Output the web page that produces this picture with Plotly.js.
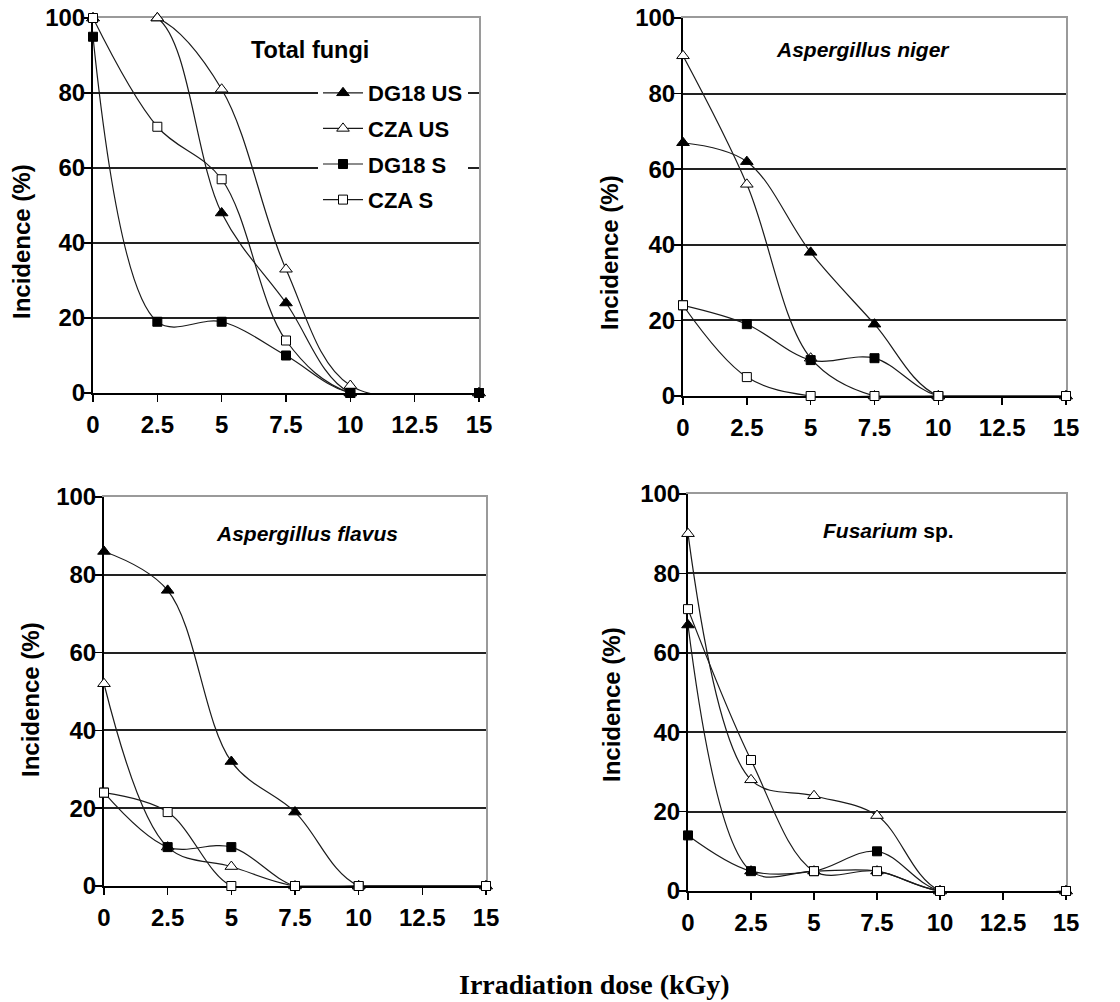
<!DOCTYPE html>
<html>
<head>
<meta charset="utf-8">
<script src="https://cdn.plot.ly/plotly-3.0.1.min.js"></script>
<style>
  html, body { margin: 0; padding: 0; background: #ffffff; }
  #chart { width: 1120px; height: 1002px; }
</style>
</head>
<body>
<div id="chart"></div>
<script>
// ---------- data ----------
const doses = [0, 2.5, 5, 7.5, 10, 15];
const xTickVals = [0, 2.5, 5, 7.5, 10, 12.5, 15];
const xTickText = ['0', '2.5', '5', '7.5', '10', '12.5', '15'];
const yTickVals = [0, 20, 40, 60, 80, 100];
const yTickText = ['0', '20', '40', '60', '80', '100'];
const seriesNames = ['DG18 US', 'CZA US', 'DG18 S', 'CZA S'];
const panelTitles = ['Total fungi', '<i>Aspergillus niger</i>', '<i>Aspergillus flavus</i>', '<i>Fusarium</i> sp.'];
const yAxisTitle = 'Incidence (%)';
const xAxisTitle = 'Irradiation dose (kGy)';

// Total fungi
const totalDG18US = [100, 100, 48, 24, 0, 0];
const totalCZAUS  = [100, 100, 81, 33, 2, 0];
const totalDG18S  = [95, 19, 19, 10, 0, 0];
const totalCZAS   = [100, 71, 57, 14, 0, 0];
// Aspergillus niger
const nigerDG18US = [67, 62, 38, 19, 0, 0];
const nigerCZAUS  = [90, 56, 10, 0, 0, 0];
const nigerDG18S  = [24, 19, 9.5, 10, 0, 0];
const nigerCZAS   = [24, 5, 0, 0, 0, 0];
// Aspergillus flavus
const flavusDG18US = [86, 76, 32, 19, 0, 0];
const flavusCZAUS  = [52, 10, 5, 0, 0, 0];
const flavusDG18S  = [24, 10, 10, 0, 0, 0];
const flavusCZAS   = [24, 19, 0, 0, 0, 0];
// Fusarium sp.
const fusDG18US = [67, 5, 5, 5, 0, 0];
const fusCZAUS  = [90, 28, 24, 19, 0, 0];
const fusDG18S  = [14, 5, 5, 10, 0, 0];
const fusCZAS   = [71, 33, 5, 5, 0, 0];

const panelData = [
  [totalDG18US, totalCZAUS, totalDG18S, totalCZAS],
  [nigerDG18US, nigerCZAUS, nigerDG18S, nigerCZAS],
  [flavusDG18US, flavusCZAUS, flavusDG18S, flavusCZAS],
  [fusDG18US, fusCZAUS, fusDG18S, fusCZAS]
];

// ---------- styling ----------
const W = 1120, H = 1002;
const SANS = 'Liberation Sans, Arial, Helvetica, sans-serif';
const SERIF = 'Liberation Serif, Times New Roman, serif';
const markerStyles = [
  {symbol: 'triangle-up', size: 11, color: '#000', line: {color: '#000', width: 1}},
  {symbol: 'triangle-up', size: 11, color: '#fff', line: {color: '#000', width: 1}},
  {symbol: 'square', size: 9, color: '#000', line: {color: '#000', width: 1}},
  {symbol: 'square', size: 9, color: '#fff', line: {color: '#000', width: 1}}
];
// draw order per panel (index into series) – last drawn is on top
const drawOrder = [
  [0, 1, 3, 2],
  [0, 1, 2, 3],
  [0, 1, 2, 3],
  [0, 1, 2, 3]
];
// plot areas in pixels [left, right, top, bottom]
const boxes = [
  [93, 479, 18, 393],
  [683, 1066, 18, 396],
  [104, 486, 497, 886],
  [688, 1066, 494, 891]
];
const titlePos = [[310, 50], [863, 50], [307, 533], [888, 530]];
const yTitlePos = [[22, 242], [609, 253], [30, 700], [611, 705]];

const traces = [];
const layout = {
  width: W, height: H,
  margin: {l: 0, r: 0, t: 0, b: 0},
  paper_bgcolor: '#fff', plot_bgcolor: '#fff',
  showlegend: true,
  legend: {
    x: 318 / W, y: 1 - 72 / H, xanchor: 'left', yanchor: 'top',
    bgcolor: '#fff', borderwidth: 0,
    font: {family: SANS, size: 22, color: '#000', weight: 'bold'},
    tracegroupgap: 4, itemwidth: 40
  },
  annotations: []
};

const tickFont = {family: SANS, size: 24, color: '#000', weight: 'bold'};
const borderColor = '#9a9a9a';

for (let p = 0; p < 4; p++) {
  const [l, r, t, b] = boxes[p];
  const sfx = p === 0 ? '' : String(p + 1);
  const xa = 'x' + sfx, ya = 'y' + sfx;
  const xDom = [l / W, r / W], yDom = [1 - b / H, 1 - t / H];
  layout['xaxis' + sfx] = {
    domain: xDom, anchor: ya,
    range: [0, 15], tickmode: 'array', tickvals: xTickVals, ticktext: xTickText,
    ticks: 'outside', ticklen: 7, tickwidth: 1.5, tickcolor: '#000',
    showline: true, linecolor: '#000', linewidth: 2,
    showgrid: false, zeroline: false, layer: 'below traces',
    tickfont: tickFont, ticklabelstandoff: 2, fixedrange: true
  };
  layout['yaxis' + sfx] = {
    domain: yDom, anchor: xa,
    range: [0, 100], tickmode: 'array', tickvals: yTickVals, ticktext: yTickText,
    ticks: 'outside', ticklen: 7, tickwidth: 1.5, tickcolor: '#000',
    showline: true, linecolor: '#000', linewidth: 2,
    showgrid: true, gridcolor: '#222', gridwidth: 2, zeroline: false,
    layer: 'below traces', tickfont: tickFont, ticklabelstandoff: -6, fixedrange: true
  };
  // gray top & right border via overlaying axes
  const ox = 'x' + (5 + p), oy = 'y' + (5 + p);
  layout['xaxis' + (5 + p)] = {
    overlaying: xa, anchor: ya, side: 'top', range: [0, 15],
    showline: true, linecolor: borderColor, linewidth: 2,
    ticks: '', showticklabels: false, showgrid: false, zeroline: false,
    layer: 'below traces', fixedrange: true
  };
  layout['yaxis' + (5 + p)] = {
    overlaying: ya, anchor: xa, side: 'right', range: [0, 100],
    showline: true, linecolor: borderColor, linewidth: 2,
    ticks: '', showticklabels: false, showgrid: false, zeroline: false,
    layer: 'below traces', fixedrange: true
  };
  // empty helper traces so the border axes get drawn
  traces.push({type: 'scatter', mode: 'lines', x: [], y: [], xaxis: ox, yaxis: ya, showlegend: false, hoverinfo: 'skip'});
  traces.push({type: 'scatter', mode: 'lines', x: [], y: [], xaxis: xa, yaxis: oy, showlegend: false, hoverinfo: 'skip'});
  for (const s of drawOrder[p]) {
    traces.push({
      type: 'scatter', mode: 'lines+markers',
      x: doses, y: panelData[p][s],
      xaxis: xa, yaxis: ya,
      name: seriesNames[s],
      legendgroup: 'g' + s, legendrank: s + 1,
      showlegend: p === 0,
      line: {color: '#1a1a1a', width: 1.2, shape: 'spline', smoothing: 1},
      marker: markerStyles[s],
      cliponaxis: false, hoverinfo: 'skip'
    });
  }
  layout.annotations.push({
    text: panelTitles[p], xref: 'paper', yref: 'paper',
    x: titlePos[p][0] / W, y: 1 - titlePos[p][1] / H,
    xanchor: 'center', yanchor: 'middle', showarrow: false,
    font: {family: SANS, size: p === 0 ? 23.5 : 21, color: '#000', weight: 'bold'}
  });
  layout.annotations.push({
    text: yAxisTitle, xref: 'paper', yref: 'paper',
    x: yTitlePos[p][0] / W, y: 1 - yTitlePos[p][1] / H,
    xanchor: 'center', yanchor: 'middle', showarrow: false, textangle: -90,
    font: {family: SANS, size: 24, color: '#000', weight: 'bold'}
  });
}

layout.annotations.push({
  text: '<b>' + xAxisTitle + '</b>', xref: 'paper', yref: 'paper',
  x: 594 / W, y: 1 - 984 / H, xanchor: 'center', yanchor: 'middle', showarrow: false,
  font: {family: SERIF, size: 28, color: '#000'}
});

Plotly.newPlot('chart', traces, layout, {staticPlot: true, displayModeBar: false});
</script>
</body>
</html>
